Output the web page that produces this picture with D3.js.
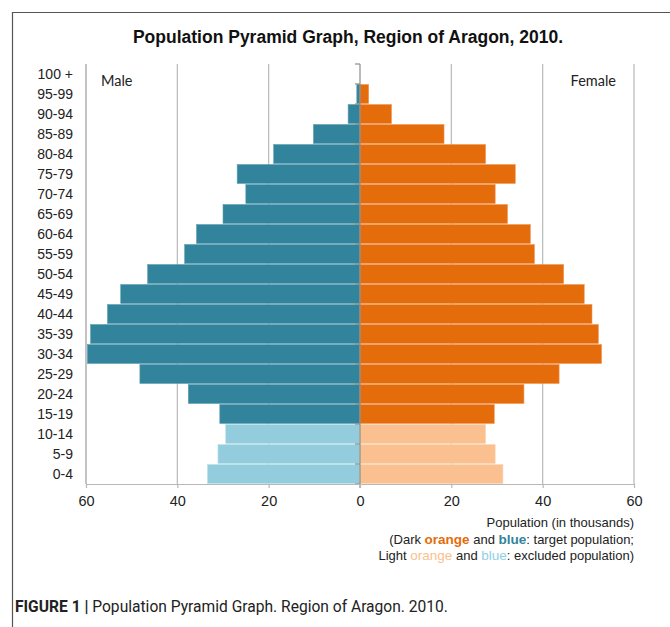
<!DOCTYPE html>
<html><head><meta charset="utf-8">
<script src="https://cdn.jsdelivr.net/npm/d3@7"></script>
<style>body{margin:0;background:#fff;} svg{display:block;}</style>
</head><body>
<svg id="c" width="670" height="627"></svg>
<script>
const ages = ["100 +","95-99","90-94","85-89","80-84","75-79","70-74","65-69","60-64","55-59","50-54","45-49","40-44","35-39","30-34","25-29","20-24","15-19","10-14","5-9","0-4"];
const male = [0, 0.7, 2.6, 10.2, 18.9, 26.9, 25.0, 30.0, 35.8, 38.4, 46.5, 52.4, 55.3, 59.0, 59.7, 48.2, 37.6, 30.7, 29.4, 31.1, 33.4];
const female = [0, 1.9, 6.9, 18.4, 27.5, 34.0, 29.6, 32.3, 37.3, 38.2, 44.6, 49.1, 50.8, 52.2, 52.9, 43.6, 35.9, 29.4, 27.5, 29.6, 31.3];
const excludedGroups = ["10-14","5-9","0-4"];
const xTicks = [-60,-40,-20,0,20,40,60];

const svg = d3.select("#c");
const x = d3.scaleLinear().domain([-60,60]).range([86,634]);
const y = d3.scaleBand().domain(ages).range([64,484]).padding(0);

const colors = {maleT:"#31849b", femaleT:"#e46c0a", maleX:"#93cddd", femaleX:"#fac08f"};

// frame
svg.append("path").attr("d","M12.5,627 V12.5 H670").attr("fill","none").attr("stroke","#555").attr("stroke-width",1.2);

// title
svg.append("text").attr("x",348).attr("y",43).attr("text-anchor","middle")
  .attr("font-family","Liberation Sans, Arial, sans-serif").attr("font-weight","bold").attr("font-size",17.5)
  .attr("fill","#111").text("Population Pyramid Graph, Region of Aragon, 2010.");

// gridlines
svg.append("g").selectAll("line").data(xTicks.filter(d=>d!==0)).join("line")
  .attr("x1",d=>x(d)).attr("x2",d=>x(d)).attr("y1",64).attr("y2",484)
  .attr("stroke","#b8b8b8").attr("stroke-width",1.2);

// bars
const rows = ages.map((a,i)=>({age:a, m:male[i], f:female[i], ex:excludedGroups.includes(a)}));
const g = svg.append("g");
g.selectAll("rect.m").data(rows).join("rect").attr("class","m")
  .attr("x",d=>x(-d.m)).attr("width",d=>x(0)-x(-d.m))
  .attr("y",d=>y(d.age)+0.5).attr("height",y.bandwidth()-1)
  .attr("fill",d=>d.ex?colors.maleX:colors.maleT)
  .attr("stroke",d=>d.ex?"#b9e0ea":"#5fa0b3").attr("stroke-width",0.6);
g.selectAll("rect.f").data(rows).join("rect").attr("class","f")
  .attr("x",x(0)).attr("width",d=>x(d.f)-x(0))
  .attr("y",d=>y(d.age)+0.5).attr("height",y.bandwidth()-1)
  .attr("fill",d=>d.ex?colors.femaleX:colors.femaleT)
  .attr("stroke",d=>d.ex?"#fcd6b5":"#f0965a").attr("stroke-width",0.6);

// center axis with ticks to the left
const cg = svg.append("g").attr("transform",`translate(${x(0)},0)`);
cg.append("line").attr("x1",0).attr("x2",0).attr("y1",64).attr("y2",488).attr("stroke","#8c8c8c").attr("stroke-width",1.2);
cg.selectAll("line.t").data(ages.concat(["__end"])).join("line").attr("class","t")
  .attr("x1",-5).attr("x2",0)
  .attr("y1",(d,i)=>64+i*y.step()).attr("y2",(d,i)=>64+i*y.step())
  .attr("stroke","#8c8c8c").attr("stroke-width",1.2);

// category labels
svg.append("g").selectAll("text").data(ages).join("text")
  .attr("x",73).attr("y",d=>y(d)+y.bandwidth()/2).attr("dy","0.35em").attr("text-anchor","end")
  .attr("font-family","Liberation Sans, Arial, sans-serif").attr("font-size",14).attr("fill","#222").text(d=>d);

// bottom axis
const xAxis = d3.axisBottom(x).tickValues(xTicks).tickSize(4).tickFormat(d=>Math.abs(d));
const xg = svg.append("g").attr("transform","translate(0,484)").call(xAxis);
xg.select(".domain").attr("stroke","#b8b8b8").attr("stroke-width",1.2).attr("d","M86,0.5H634");
xg.selectAll(".tick line").attr("stroke","#b8b8b8").attr("stroke-width",1.2);
xg.selectAll(".tick text").attr("font-family","Liberation Sans, Arial, sans-serif").attr("font-size",14.5).attr("fill","#222").attr("dy","1.05em");

// left axis line
svg.append("line").attr("x1",86).attr("x2",86).attr("y1",64).attr("y2",484).attr("stroke","#b8b8b8").attr("stroke-width",1.2);

// Male / Female
svg.append("text").attr("x",101).attr("y",86).attr("font-family","Lato, 'Open Sans', sans-serif").attr("font-size",14.5).attr("fill","#222").text("Male");
svg.append("text").attr("x",616).attr("y",86).attr("text-anchor","end").attr("font-family","Lato, 'Open Sans', sans-serif").attr("font-size",14.5).attr("fill","#222").text("Female");

// notes
const nf = "Liberation Sans, Arial, sans-serif";
const n1 = svg.append("text").attr("x",634).attr("y",527).attr("text-anchor","end").attr("font-family",nf).attr("font-size",13).attr("fill","#222");
n1.text("Population (in thousands)");
const n2 = svg.append("text").attr("x",634).attr("y",544).attr("text-anchor","end").attr("font-family",nf).attr("font-size",13).attr("fill","#222");
n2.append("tspan").text("(Dark ");
n2.append("tspan").attr("fill",colors.femaleT).attr("font-weight","bold").attr("font-size",13.5).text("orange");
n2.append("tspan").text(" and ");
n2.append("tspan").attr("fill",colors.maleT).attr("font-weight","bold").attr("font-size",13.5).text("blue");
n2.append("tspan").text(": target population;");
const n3 = svg.append("text").attr("x",634).attr("y",560).attr("text-anchor","end").attr("font-family",nf).attr("font-size",13).attr("fill","#222");
n3.append("tspan").text("Light ");
n3.append("tspan").attr("fill",colors.femaleX).attr("font-size",13.5).text("orange");
n3.append("tspan").text(" and ");
n3.append("tspan").attr("fill","#8fd0e6").attr("font-size",13.5).text("blue");
n3.append("tspan").text(": excluded population)");

// figure caption
const cap = svg.append("text").attr("x",15).attr("y",612).attr("font-family","Roboto, 'Liberation Sans', sans-serif").attr("font-size",17)
  .attr("fill","#222").attr("textLength",433).attr("lengthAdjust","spacingAndGlyphs");
cap.append("tspan").attr("font-weight","bold").text("FIGURE 1 | ");
cap.append("tspan").text("Population Pyramid Graph. Region of Aragon. 2010.");
</script>
</body></html>
